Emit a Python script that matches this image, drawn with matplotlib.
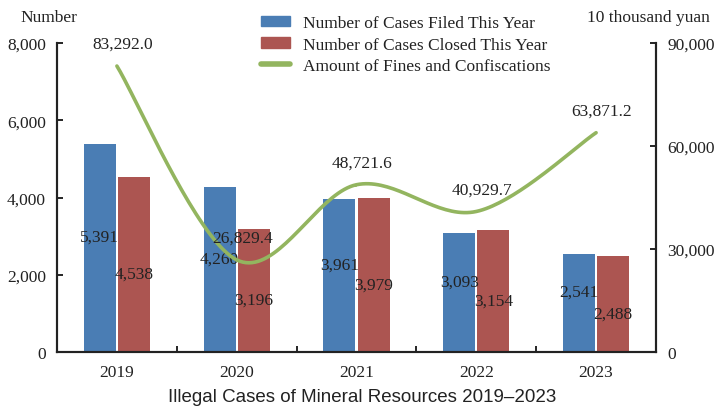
import numpy as np
import matplotlib
matplotlib.use("Agg")
from matplotlib import pyplot as plt
from matplotlib.patches import Patch
from matplotlib.lines import Line2D

years = ["2019", "2020", "2021", "2022", "2023"]
cases_filed = [5391, 4260, 3961, 3093, 2541]
cases_closed = [4538, 3196, 3979, 3154, 2488]
fines = [83292.0, 26829.4, 48721.6, 40929.7, 63871.2]

BLUE = "#4A7DB4"
RED = "#AC5551"
GREEN = "#93B55F"
TXT = "#222222"

plt.rcParams["font.family"] = ["Liberation Serif", "DejaVu Serif"]
plt.rcParams["font.size"] = 12.5


def catmull_rom(xs, ys, n=40):
    # smooth curve through the points (like a spreadsheet "smoothed line")
    xs = np.asarray(xs, float)
    ys = np.asarray(ys, float)
    px = np.concatenate([[xs[0]], xs, [xs[-1]]])
    py = np.concatenate([[ys[0]], ys, [ys[-1]]])
    out_x, out_y = [], []
    for i in range(1, len(px) - 2):
        t = np.linspace(0, 1, n)
        for p, out in ((px, out_x), (py, out_y)):
            p0, p1, p2, p3 = p[i - 1], p[i], p[i + 1], p[i + 2]
            out.extend(0.5 * (2 * p1 + (-p0 + p2) * t
                              + (2 * p0 - 5 * p1 + 4 * p2 - p3) * t ** 2
                              + (-p0 + 3 * p1 - 3 * p2 + p3) * t ** 3))
    return np.array(out_x), np.array(out_y)


W, H = 715, 414
fig = plt.figure(figsize=(W / 100, H / 100), dpi=100)
ax = fig.add_axes([57 / W, (H - 353) / H, 599 / W, 309 / H])
ax2 = ax.twinx()

x = np.arange(len(years))
bw = 0.267
gap = 0.009
ax.bar(x - bw / 2 - gap, cases_filed, bw, color=BLUE, zorder=2)
ax.bar(x + bw / 2 + gap, cases_closed, bw, color=RED, zorder=2)

for i in range(len(years)):
    ax.annotate(f"{cases_filed[i]:,}", (x[i] - bw / 2 - gap, cases_filed[i] / 2),
                xytext=(0, 8), textcoords="offset points",
                ha="center", va="center", color=TXT, zorder=5)
    ax.annotate(f"{cases_closed[i]:,}", (x[i] + bw / 2 + gap, cases_closed[i] / 2),
                xytext=(0, -7), textcoords="offset points",
                ha="center", va="center", color=TXT, zorder=5)

ax.set_xlim(-0.5, len(years) - 0.5)
ax.set_ylim(0, 8000)
ax.set_yticks(range(0, 8001, 2000))
ax.set_yticklabels([f"{v:,}" for v in range(0, 8001, 2000)], color=TXT)
ax.set_xticks(x)
ax.set_xticklabels(years, color=TXT)
ax.set_xticks(x[:-1] + 0.5, minor=True)
ax.tick_params(axis="x", which="major", length=0, pad=9)
ax.tick_params(axis="x", which="minor", direction="in", length=4, width=1.2)
ax.tick_params(axis="y", direction="in", length=4, width=1.2, pad=8)

cx, cy = catmull_rom(x, fines)
ax2.plot(cx, cy, color=GREEN, lw=2.6, solid_capstyle="round", zorder=3)
for i in range(len(years)):
    ax2.annotate(f"{fines[i]:,.1f}", (x[i], fines[i]), xytext=(4, 16),
                 textcoords="offset points", ha="center", va="center", color=TXT)
ax2.set_ylim(0, 90000)
ax2.set_yticks(range(0, 90001, 30000))
ax2.set_yticklabels([f"{v:,}" for v in range(0, 90001, 30000)], color=TXT)
ax2.tick_params(axis="y", direction="in", length=4, width=1.2, pad=8)

for a in (ax, ax2):
    a.spines["top"].set_visible(False)
    for s in ("left", "right", "bottom"):
        a.spines[s].set_linewidth(1.5)
        a.spines[s].set_color("#222222")

fig.text(20 / W, 1 - 18 / H, "Number", ha="left", va="center", color=TXT)
fig.text(710 / W, 1 - 18 / H, "10 thousand yuan", ha="right", va="center", color=TXT)

handles = [Patch(color=BLUE), Patch(color=RED),
           Line2D([], [], color=GREEN, lw=4, solid_capstyle="round")]
labels = ["Number of Cases Filed This Year", "Number of Cases Closed This Year",
          "Amount of Fines and Confiscations"]
fig.legend(handles, labels, loc="upper left", bbox_to_anchor=(261 / W, 1 - 16 / H),
           frameon=False, handlelength=1.65, handleheight=0.55, handletextpad=0.75,
           labelspacing=0.32, borderaxespad=0, borderpad=0, labelcolor=TXT)

fig.text(0.507, 1 - 398 / H, "Illegal Cases of Mineral Resources 2019\u20132023",
         ha="center", va="center", fontsize=13.5, color=TXT,
         family=["Liberation Sans", "DejaVu Sans"])

fig.savefig("out.png", dpi=100)
